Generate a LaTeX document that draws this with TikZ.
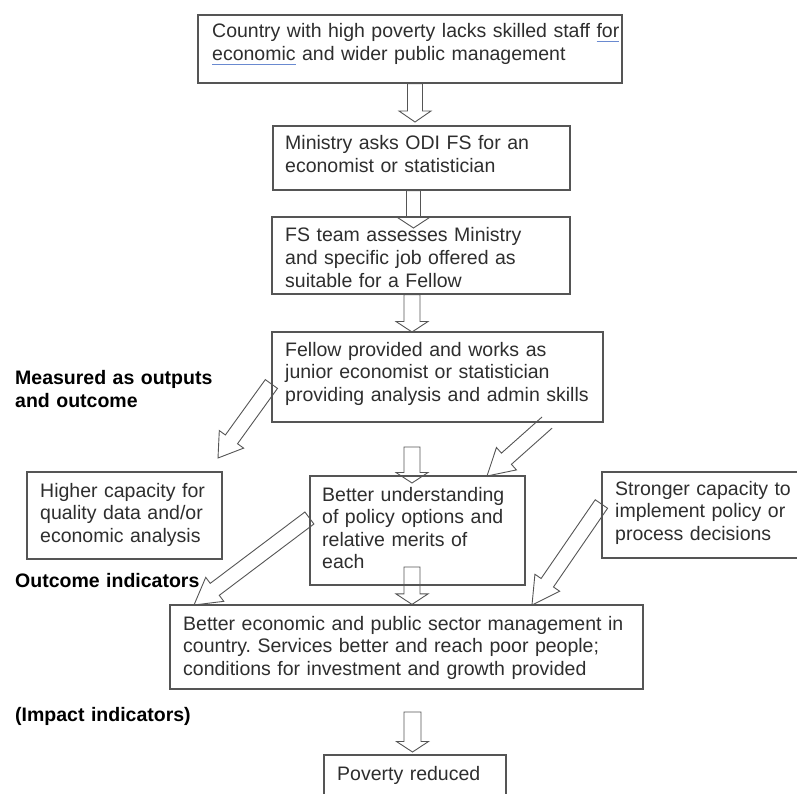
\documentclass[tikz,border=0pt]{standalone}
\usepackage{fontspec}
\setmainfont{Liberation Sans}
\usetikzlibrary{calc,fit}

\definecolor{inkgray}{HTML}{2E2E2E}
\definecolor{linegray}{HTML}{555555}
\definecolor{ulblue}{HTML}{6A8AD0}

% blue proofing underline under a word
\newcommand\gramline[1]{\leavevmode\setbox0\hbox{#1}\rlap{\color{ulblue}\rule[-4.5pt]{\wd0}{1.1pt}}\box0\relax}

% hollow block arrow: tail, tip, shaft half-width, head half-width, head length
\newcommand\blockarrow[5]{%
  \path ($(#2)!#5!(#1)$) coordinate (ba-h);
  \draw[barrow] ($(#1)!#3!90:(#2)$) -- ($(ba-h)!#3!90:(#2)$) -- ($(ba-h)!#4!90:(#2)$)
    -- (#2) -- ($(ba-h)!#4!-90:(#2)$) -- ($(ba-h)!#3!-90:(#2)$) -- ($(#1)!#3!-90:(#2)$) -- cycle;
}
% same, left open at the tail where it meets a box edge
\newcommand\openblockarrow[5]{%
  \path ($(#2)!#5!(#1)$) coordinate (ba-h);
  \draw[barrow] ($(#1)!#3!90:(#2)$) -- ($(ba-h)!#3!90:(#2)$) -- ($(ba-h)!#4!90:(#2)$)
    -- (#2) -- ($(ba-h)!#4!-90:(#2)$) -- ($(ba-h)!#3!-90:(#2)$) -- ($(#1)!#3!-90:(#2)$);
}

\tikzset{
  box/.style={draw=linegray, line width=1.2pt, inner sep=0pt},
  txt/.style={text=inkgray, font=\fontsize{19.5}{22.6}\selectfont\frenchspacing, text width=480pt,
              align=left, inner sep=0pt, anchor=base west},
  lbl/.style={text=black, font=\bfseries\fontsize{19.5}{23}\selectfont, text width=300pt,
              align=left, inner sep=0pt, anchor=base west},
  barrow/.style={draw=linegray, line width=0.9pt, line join=miter},
}

\begin{document}
\begin{tikzpicture}[x=1pt, y=-1pt]
\useasboundingbox[fill=white] (0,0) rectangle (797,794);

% boxes
\node[box, fit={(198,15) (622,83)}] (b1) {};
\node[box, fit={(273,126) (570,190)}] (b2) {};
\node[box, fit={(272,217) (570,294)}] (b3) {};
\node[box, fit={(272,332) (603,422)}] (b4) {};
\node[box, fit={(27,472) (222,559)}] (b5) {};
\node[box, fit={(310,476) (525,585)}] (b6) {};
\node[box, fit={(602,472) (800,558)}] (b7) {};
\node[box, fit={(170,605) (643,689)}] (b8) {};
\node[box, fit={(324,755) (506,800)}] (b9) {};

% box texts
\node[txt] (t1) at (212,38) {Country with high poverty lacks skilled staff \gramline{for}\\\gramline{economic} and wider public management};
\node[txt] (t2) at (285,150) {Ministry asks ODI FS for an\\economist or statistician};
\node[txt] (t3) at (285,242) {FS team assesses Ministry\\and specific job offered as\\suitable for a Fellow};
\node[txt] (t4) at (285,356) {Fellow provided and works as\\junior economist or statistician\\providing analysis and admin skills};
\node[txt] (t5) at (40,497) {Higher capacity for\\quality data and/or\\economic analysis};
\node[txt] (t6) at (322,501) {Better understanding\\of policy options and\\relative merits of\\each};
\node[txt] (t7) at (615,495) {Stronger capacity to\\implement policy or\\process decisions};
\node[txt] (t8) at (183,630) {Better economic and public sector management in\\country. Services better and reach poor people;\\conditions for investment and growth provided};
\node[txt] (t9) at (337,780) {Poverty reduced};

% side labels
\node[lbl] (l1) at (15,384) {Measured as outputs\\and outcome};
\node[lbl] (l2) at (15,587) {Outcome indicators};
\node[lbl] (l3) at (15,721) {(Impact indicators)};

% arrow end points
\coordinate (a1s) at (b1.south -| 415,0);   \coordinate (a1e) at (415,122);
\coordinate (a2s) at (b2.south -| 413.5,0); \coordinate (a2e) at (413.5,228);
\coordinate (a3s) at (b3.south -| 412,0);   \coordinate (a3e) at (412,332);
\coordinate (a4s) at (412,447);             \coordinate (a4e) at (412,483);
\coordinate (a5s) at (412,567);             \coordinate (a5e) at (b8.north -| 412,0);
\coordinate (a6s) at (412.5,712);           \coordinate (a6e) at (412.5,752);

\coordinate (d1s) at (b4.west |- 0,384);    \coordinate (d1e) at (218,458);
\coordinate (d2s) at (b4.south -| 547,0);   \coordinate (d2e) at (487,476);
\coordinate (d3s) at (b6.west |- 0,518);    \coordinate (d3e) at (194,605);
\coordinate (d4s) at (b7.west |- 0,504);    \coordinate (d4e) at (532,605);

% vertical flow arrows
\blockarrow{a1s}{a1e}{7.5pt}{16pt}{11pt}
\blockarrow{a2s}{a2e}{7pt}{16pt}{10.5pt}
\blockarrow{a3s}{a3e}{8pt}{16pt}{10.5pt}
\blockarrow{a4s}{a4e}{8pt}{16pt}{10.5pt}
\blockarrow{a5s}{a5e}{8pt}{16pt}{10.5pt}
\blockarrow{a6s}{a6e}{8.5pt}{16pt}{10.5pt}

% diagonal arrows
\blockarrow{d1s}{d1e}{7.5pt}{15pt}{23pt}
\openblockarrow{d2s}{d2e}{7.5pt}{15pt}{26pt}
\blockarrow{d3s}{d3e}{7.5pt}{15pt}{26pt}
\blockarrow{d4s}{d4e}{7.5pt}{15pt}{27pt}
\end{tikzpicture}
\end{document}
